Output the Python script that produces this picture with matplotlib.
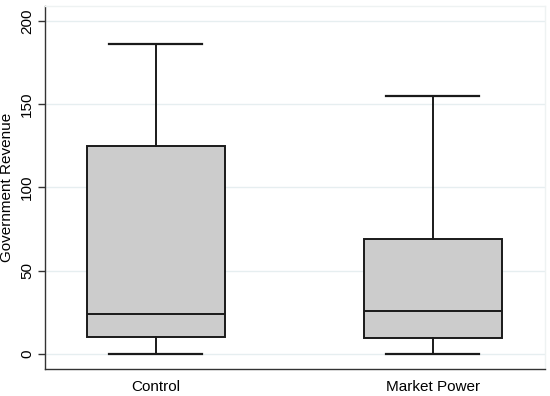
import matplotlib
matplotlib.use("Agg")
import matplotlib.pyplot as plt

categories = ["Control", "Market Power"]
whislo = [0, 0]
q1 = [10.4, 9.4]
med = [24, 26]
q3 = [125, 68.9]
whishi = [186, 155]

plt.rcParams['font.family'] = ['Liberation Sans', 'DejaVu Sans']

fig = plt.figure(figsize=(5.5, 3.96), dpi=100)
ax = fig.add_axes([45/550, 1-369/396, 500/550, (369-6)/396])

stats = []
for i, c in enumerate(categories):
    stats.append(dict(label=c, whislo=whislo[i], q1=q1[i], med=med[i], q3=q3[i], whishi=whishi[i], fliers=[]))

ax.bxp(stats, positions=[1, 2], widths=0.5, capwidths=0.336, patch_artist=True, showfliers=False,
       boxprops=dict(facecolor='#cccccc', edgecolor='#1a1a1a', linewidth=1.4),
       medianprops=dict(color='#1a1a1a', linewidth=1.4),
       whiskerprops=dict(color='#1a1a1a', linewidth=1.4),
       capprops=dict(color='#1a1a1a', linewidth=1.6), zorder=3)

ax.set_xlim(0.6, 2.405)
ax.set_ylim(-9, 209)
ax.set_yticks([0, 50, 100, 150, 200])
ax.set_yticklabels(["0", "50", "100", "150", "200"], rotation=90, va='center')
ax.tick_params(axis='y', length=5, width=1, color='#333333', labelsize=11, pad=3)
ax.tick_params(axis='x', length=0, labelsize=11, pad=8)
ax.set_ylabel("Government Revenue", fontsize=11, labelpad=4)
ax.grid(axis='y', color='#e6eef0', linewidth=1, zorder=0)
ax.set_axisbelow(True)
for s in ['top', 'right']:
    ax.spines[s].set_color('#eef2f2')
    ax.spines[s].set_linewidth(1)
for s in ['left', 'bottom']:
    ax.spines[s].set_color('#333333')
    ax.spines[s].set_linewidth(1)

fig.savefig("out.png", dpi=100)
